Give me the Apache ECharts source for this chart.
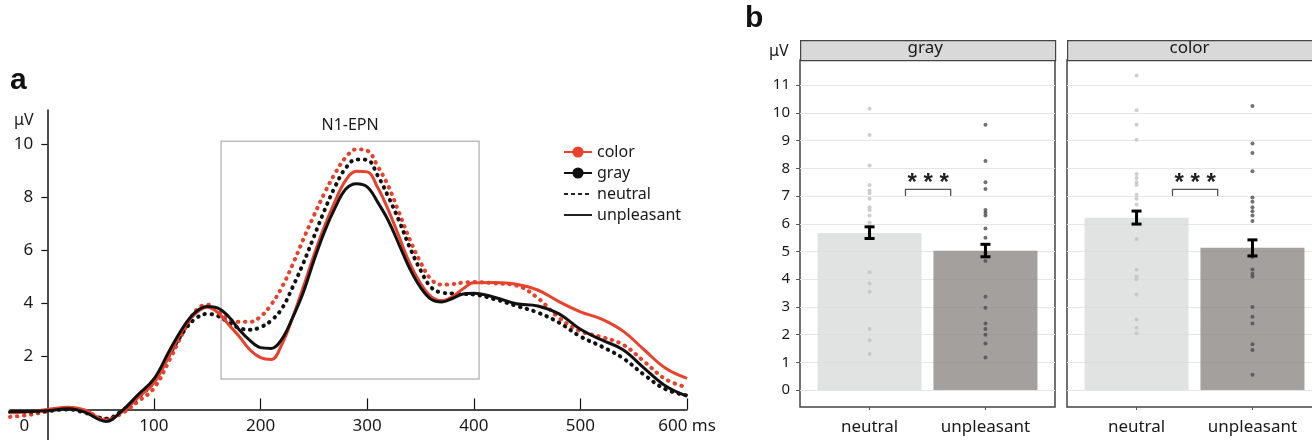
<!DOCTYPE html>
<html>
<head>
<meta charset="utf-8">
<script src="https://cdn.jsdelivr.net/npm/echarts@6/dist/echarts.min.js"></script>
<style>
  html, body { margin: 0; padding: 0; background: #fff; }
  #chart { width: 1312px; height: 440px; }
</style>
</head>
<body>
<div id="chart"></div>
<script>
// panel a: ERP waveforms (ms, µV)
const times = [-35, -20, 0, 20, 35, 55, 70, 85, 100, 115, 130, 140, 150, 160, 170, 180, 190, 200, 210, 220, 230, 240, 250, 260, 270, 280, 290, 300, 310, 320, 330, 340, 350, 360, 370, 380, 390, 400, 420, 440, 460, 480, 500, 520, 540, 560, 580, 600];
const colorNeutral = [-0.28, -0.22, -0.08, 0.05, -0.05, -0.35, -0.15, 0.3, 0.8, 1.9, 3.1, 3.75, 3.95, 3.7, 3.4, 3.3, 3.3, 3.5, 3.95, 4.6, 5.45, 6.4, 7.3, 8.15, 8.9, 9.5, 9.8, 9.75, 9.15, 8.4, 7.4, 6.4, 5.55, 4.9, 4.7, 4.72, 4.78, 4.8, 4.75, 4.67, 4.2, 3.45, 2.95, 2.73, 2.44, 1.8, 1.14, 0.83];
const colorUnpleasant = [-0.12, -0.1, 0.0, 0.08, -0.02, -0.4, -0.1, 0.45, 1.0, 2.1, 3.2, 3.65, 3.85, 3.65, 3.2, 2.75, 2.25, 1.95, 1.88, 2.45, 3.45, 4.6, 5.8, 6.9, 7.85, 8.64, 8.97, 8.95, 8.35, 7.5, 6.5, 5.5, 4.75, 4.25, 4.1, 4.25, 4.55, 4.77, 4.78, 4.72, 4.5, 4.06, 3.68, 3.4, 2.95, 2.24, 1.55, 1.17];
const grayNeutral = [-0.1, -0.1, -0.05, 0.0, -0.12, -0.35, -0.05, 0.45, 1.05, 2.1, 3.05, 3.45, 3.6, 3.52, 3.28, 3.07, 3.0, 3.1, 3.35, 3.8, 4.6, 5.5, 6.5, 7.5, 8.4, 9.1, 9.42, 9.4, 8.8, 8.0, 7.1, 6.1, 5.25, 4.6, 4.4, 4.37, 4.35, 4.33, 4.15, 3.9, 3.65, 3.27, 2.75, 2.37, 1.93, 1.3, 0.76, 0.53];
const grayUnpleasant = [-0.08, -0.08, -0.05, 0.03, -0.1, -0.45, -0.05, 0.55, 1.15, 2.25, 3.25, 3.7, 3.88, 3.82, 3.5, 3.0, 2.6, 2.33, 2.3, 2.65, 3.45, 4.4, 5.6, 6.7, 7.6, 8.3, 8.5, 8.38, 7.8, 7.1, 6.2, 5.3, 4.6, 4.15, 4.05, 4.18, 4.35, 4.38, 4.22, 3.98, 3.9, 3.6, 3.02, 2.62, 2.25, 1.55, 0.88, 0.5];
const timeTicks = [0, 100, 200, 300, 400, 500, 600];
const uvTicksA = [2, 4, 6, 8, 10];
const epnWindow = [163, 405];   // ms
const epnRange = [1.15, 10.1];  // µV
const legendNames = ['color', 'gray', 'neutral', 'unpleasant'];

// panel b: mean amplitudes
const conds = ['neutral', 'unpleasant'];
const uvTicksB = [0, 1, 2, 3, 4, 5, 6, 7, 8, 9, 10, 11];
const grayMeans = [5.67, 5.03];
const grayErr = [[5.47, 5.89], [4.81, 5.26]];
const colorMeans = [6.22, 5.14];
const colorErr = [[5.99, 6.46], [4.84, 5.42]];
const grayNeutralPts = [10.15, 9.2, 8.1, 7.4, 7.2, 7.1, 6.9, 6.6, 6.5, 6.3, 6.05, 5.9, 4.25, 3.85, 3.55, 2.2, 1.8, 1.3];
const grayUnpleasantPts = [9.57, 8.27, 7.5, 7.26, 6.5, 6.4, 6.3, 5.83, 5.5, 4.95, 4.66, 3.37, 2.97, 2.4, 2.2, 2.0, 1.68, 1.18];
const colorNeutralPts = [11.35, 10.1, 9.57, 9.03, 7.8, 7.65, 7.5, 7.4, 7.05, 6.9, 6.7, 5.45, 4.35, 4.1, 4.0, 3.45, 2.55, 2.25, 2.05];
const colorUnpleasantPts = [10.25, 8.9, 8.55, 7.9, 6.95, 6.8, 6.6, 6.45, 6.3, 6.1, 4.8, 4.35, 4.2, 4.1, 3.0, 2.65, 2.4, 1.65, 1.45, 0.55];
const sigBracket = [1.31, 1.7, 7.24, 7.0];

const RED = '#e8412c';
const BLACK = '#111';
const FONT = '"Noto Sans", "Open Sans", sans-serif';
const DOTS = [0.5, 6.5];

// panel a grid: x -35..600 ms over 677 px, y -1.15..11.28 µV over 330 px
const A_LEFT = 10, A_TOP = 110, A_W = 677, A_H = 330;
const A_XMIN = -35, A_XMAX = 600, A_YMIN = -1.15, A_YMAX = 11.28;
// axes cross at (0 ms, 0 µV)
const yAxisShift = -(0 - A_XMIN) / (A_XMAX - A_XMIN) * A_W;
const xAxisShift = -(0 - A_YMIN) / (A_YMAX - A_YMIN) * A_H;

const chart = echarts.init(document.getElementById('chart'));

const wave = (name, data, color, dotted) => ({
    name: name,
    type: 'line',
    xAxisIndex: 0,
    yAxisIndex: 0,
    data: times.map((t, i) => [t, data[i]]),
    smooth: 0.4,
    symbol: 'none',
    silent: true,
    lineStyle: dotted
        ? { color: color, width: 4, type: DOTS, cap: 'round' }
        : { color: color, width: 3, type: 'solid' },
    z: dotted ? 3 : 4
});

const legendDummy = (name, color, symbol, type) => ({
    name: name,
    type: 'line',
    xAxisIndex: 0,
    yAxisIndex: 0,
    data: [],
    symbol: symbol,
    symbolSize: 11,
    itemStyle: { color: color },
    lineStyle: { color: color, width: symbol === 'none' ? 1.6 : 2, type: type }
});

const makePanel = (gi, means, errs, ptsN, ptsU) => {
    const list = [];
    list.push({
        type: 'bar',
        xAxisIndex: gi,
        yAxisIndex: gi,
        barWidth: 104,
        silent: true,
        data: means.map((m, i) => [i + 1, m]),
        itemStyle: { color: p => ['rgba(218,220,220,0.8)', 'rgba(140,136,134,0.8)'][p.dataIndex] },
        z: 2
    });
    [ptsN, ptsU].forEach((pts, ci) => {
        list.push({
            type: 'scatter',
            xAxisIndex: gi,
            yAxisIndex: gi,
            silent: true,
            symbolSize: 4,
            data: pts.map(v => [ci + 1, v]),
            itemStyle: { color: ci === 0 ? '#c2c2c2' : '#4d4d4d' },
            z: 3
        });
    });
    list.push({
        type: 'custom',
        xAxisIndex: gi,
        yAxisIndex: gi,
        silent: true,
        data: errs.map((e, i) => [i + 1, e[0], e[1]]),
        encode: { x: 0, y: [1, 2] },
        renderItem: (params, api) => {
            const lo = api.coord([api.value(0), api.value(1)]);
            const hi = api.coord([api.value(0), api.value(2)]);
            const st = { stroke: '#000', lineWidth: 3 };
            return {
                type: 'group',
                children: [
                    { type: 'line', shape: { x1: lo[0], y1: lo[1], x2: hi[0], y2: hi[1] }, style: st },
                    { type: 'line', shape: { x1: lo[0] - 5, y1: lo[1], x2: lo[0] + 5, y2: lo[1] }, style: st },
                    { type: 'line', shape: { x1: hi[0] - 5, y1: hi[1], x2: hi[0] + 5, y2: hi[1] }, style: st }
                ]
            };
        },
        z: 5
    });
    list.push({
        type: 'custom',
        xAxisIndex: gi,
        yAxisIndex: gi,
        silent: true,
        data: [sigBracket],
        renderItem: (params, api) => {
            const a = api.coord([api.value(0), api.value(2)]);
            const b = api.coord([api.value(1), api.value(2)]);
            const leg = api.coord([api.value(0), api.value(3)]);
            return {
                type: 'group',
                children: [
                    {
                        type: 'polyline',
                        shape: { points: [[a[0], leg[1]], a, b, [b[0], leg[1]]] },
                        style: { stroke: '#555', lineWidth: 1.3, fill: null }
                    },
                    {
                        type: 'text',
                        style: {
                            text: '* * *', x: (a[0] + b[0]) / 2, y: a[1] + 6,
                            align: 'center', verticalAlign: 'bottom',
                            font: 'bold 24px "Liberation Sans", sans-serif', fill: '#222'
                        }
                    }
                ]
            };
        },
        z: 5
    });
    return list;
};

const bGrid = left => ({ left: left, top: 60, width: 255, height: 347, outerBoundsMode: 'none', show: true, borderColor: '#444', borderWidth: 1.5, backgroundColor: 'transparent' });

const bX = (gi) => ({
    type: 'value',
    gridIndex: gi,
    min: 0.4,
    max: 2.6,
    axisLine: { show: false, onZero: false },
    axisTick: { show: true, length: 3, customValues: [1, 2], lineStyle: { color: '#555' } },
    axisLabel: { customValues: [1, 2], formatter: v => conds[v - 1], fontSize: 17, fontFamily: FONT, color: '#1a1a1a', margin: 12 },
    splitLine: { show: false }
});

const bY = (gi, labels) => ({
    type: 'value',
    gridIndex: gi,
    min: -0.61,
    max: 11.91,
    axisLine: { show: false, onZero: false },
    axisTick: { show: labels, length: 4, customValues: uvTicksB, lineStyle: { color: '#555' } },
    axisLabel: { show: labels, customValues: uvTicksB, fontSize: 15, fontFamily: FONT, color: '#1a1a1a', margin: 10 },
    splitLine: { show: true, lineStyle: { color: '#e6e6e6', width: 1 } }
});

const strip = (left, label) => [
    { type: 'rect', left: left, top: 40, shape: { width: 255, height: 20 }, style: { fill: '#d9d9d9', stroke: '#444', lineWidth: 1.2 }, z: 10 },
    { type: 'text', left: left + 127.5 - label.length * 5, top: 40, style: { text: label, font: '17px ' + FONT, fill: '#1a1a1a' }, z: 11 }
];

chart.setOption({
    animation: false,
    backgroundColor: '#fff',
    textStyle: { fontFamily: FONT },
    grid: [
        { left: A_LEFT, top: A_TOP, width: A_W, height: A_H, outerBoundsMode: 'none' },
        bGrid(800),
        bGrid(1067)
    ],
    legend: {
        data: legendNames.map((n, i) => i < 2 ? { name: n } : { name: n, itemStyle: { opacity: 0 } }),
        orient: 'vertical',
        left: 558,
        top: 139,
        itemWidth: 28,
        itemHeight: 14,
        itemGap: 5,
        selectedMode: false,
        textStyle: { fontSize: 16, fontFamily: FONT, color: '#1a1a1a' }
    },
    xAxis: [
        {
            type: 'value',
            gridIndex: 0,
            min: A_XMIN,
            max: A_XMAX,
            position: 'bottom',
            offset: xAxisShift,
            axisLine: { onZero: false, lineStyle: { color: BLACK, width: 1.5 } },
            axisTick: { inside: true, length: 11, customValues: timeTicks.slice(1), lineStyle: { color: BLACK, width: 1.2 } },
            axisLabel: {
                customValues: timeTicks,
                margin: 8,
                fontSize: 17,
                fontFamily: FONT,
                color: '#1a1a1a',
                formatter: v => v === 0 ? '{z|0}' : (v === 600 ? '600 ms' : String(v)),
                rich: { z: { fontSize: 17, fontFamily: FONT, color: '#1a1a1a', padding: [0, 46, 0, 0] } }
            },
            splitLine: { show: false }
        },
        bX(1),
        bX(2)
    ],
    yAxis: [
        {
            type: 'value',
            gridIndex: 0,
            min: A_YMIN,
            max: A_YMAX,
            position: 'left',
            offset: yAxisShift,
            axisLine: { onZero: false, lineStyle: { color: BLACK, width: 1.5 } },
            axisTick: { length: 6, customValues: uvTicksA, lineStyle: { color: BLACK, width: 1.2 } },
            axisLabel: { customValues: uvTicksA, margin: 14, fontSize: 17, fontFamily: FONT, color: '#1a1a1a' },
            splitLine: { show: false }
        },
        bY(1, true),
        bY(2, false)
    ],
    graphic: [
        { type: 'text', left: 10, top: 66, style: { text: 'a', font: 'bold 30px "Liberation Sans", sans-serif', fill: '#111' } },
        { type: 'text', left: 745, top: 4, style: { text: 'b', font: 'bold 30px "Liberation Sans", sans-serif', fill: '#111' } },
        { type: 'text', left: 14, top: 112, style: { text: 'μV', font: '16px ' + FONT, fill: '#1a1a1a' } },
        { type: 'text', left: 769, top: 43, style: { text: 'μV', font: '16px ' + FONT, fill: '#1a1a1a' } },
        ...strip(800, 'gray'),
        ...strip(1067, 'color')
    ],
    series: [
        Object.assign(wave('color neutral', colorNeutral, RED, true), {
            markArea: {
                silent: true,
                itemStyle: { color: 'transparent', borderColor: '#bdbdbd', borderWidth: 1.5 },
                label: { show: true, position: 'top', distance: 7, fontSize: 16, fontFamily: FONT, color: '#1a1a1a', formatter: '{b}' },
                data: [[
                    { name: 'N1-EPN', xAxis: epnWindow[0], yAxis: epnRange[0] },
                    { xAxis: epnWindow[1], yAxis: epnRange[1] }
                ]]
            }
        }),
        wave('gray neutral', grayNeutral, BLACK, true),
        wave('color unpleasant', colorUnpleasant, RED, false),
        wave('gray unpleasant', grayUnpleasant, BLACK, false),
        legendDummy('color', RED, 'circle', 'solid'),
        legendDummy('gray', BLACK, 'circle', 'solid'),
        legendDummy('neutral', '#222', 'none', [4, 3]),
        legendDummy('unpleasant', '#222', 'none', 'solid'),
        ...makePanel(1, grayMeans, grayErr, grayNeutralPts, grayUnpleasantPts),
        ...makePanel(2, colorMeans, colorErr, colorNeutralPts, colorUnpleasantPts)
    ]
});
</script>
</body>
</html>
